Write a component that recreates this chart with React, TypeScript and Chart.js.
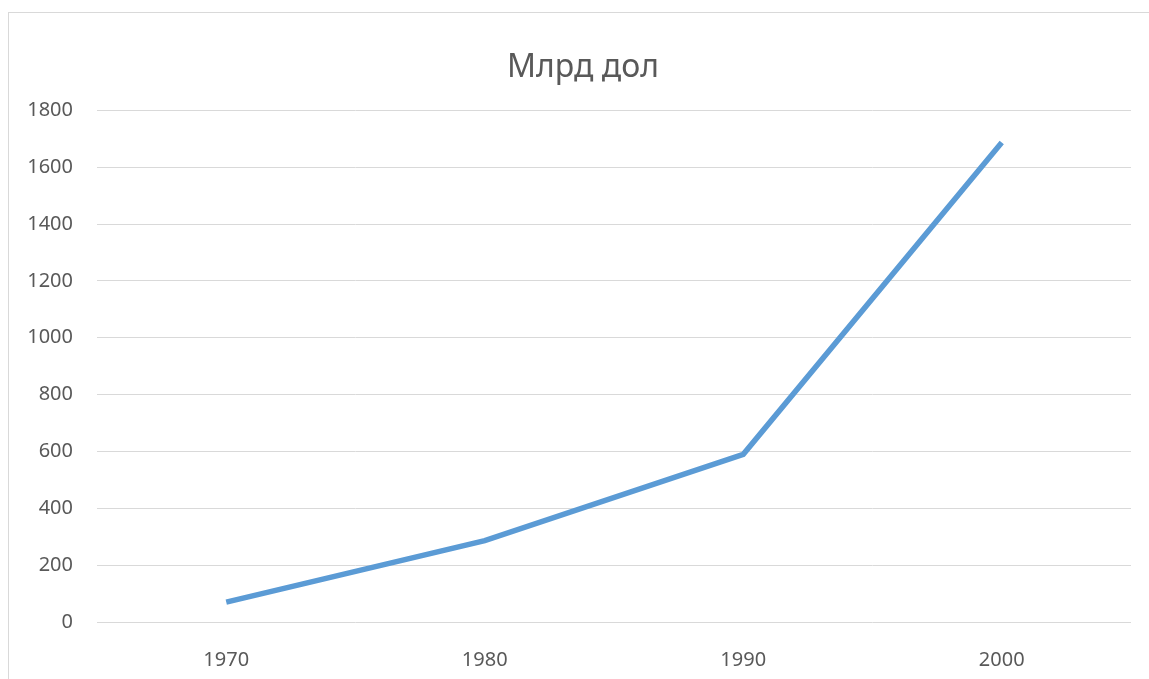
import React, { useEffect, useRef } from "react";
import { Chart, registerables } from "chart.js";

Chart.register(...registerables);

const categories: string[] = ["1970", "1980", "1990", "2000"];
const values: number[] = [70, 286, 590, 1687];
const seriesName = "Млрд дол";
const titleText = "Млрд дол";
const yMin = 0;
const yMax = 1800;
const yStep = 200;

const centerTitlePlugin = {
  id: "centerTitleFull",
  afterLayout(chart: any) {
    const tb = chart.titleBlock;
    if (tb) {
      tb.left = 0;
      tb.right = chart.width;
    }
  },
};

export default function App() {
  const ref = useRef<HTMLCanvasElement | null>(null);

  useEffect(() => {
    if (!ref.current) return;
    const chart = new Chart(ref.current, {
      type: "line",
      data: {
        labels: categories,
        datasets: [
          {
            label: seriesName,
            data: values,
            borderColor: "#5B9BD5",
            backgroundColor: "#5B9BD5",
            borderWidth: 5.5,
            pointRadius: 0,
            tension: 0,
            borderCapStyle: "butt",
            borderJoinStyle: "miter",
          },
        ],
      },
      plugins: [centerTitlePlugin],
      options: {
        animation: false,
        responsive: false,
        maintainAspectRatio: false,
        layout: { padding: { left: 0, right: 26, top: 0, bottom: 0 } },
        plugins: {
          legend: { display: false },
          tooltip: { enabled: false },
          title: {
            display: true,
            text: titleText,
            color: "#595959",
            font: { family: "'Noto Sans'", size: 32, weight: "normal" },
            padding: { top: 36, bottom: 23 },
          },
        },
        scales: {
          x: {
            offset: true,
            grid: { display: false, drawTicks: false },
            border: { display: false },
            ticks: {
              color: "#595959",
              font: { family: "'Noto Sans'", size: 20 },
              padding: 26,
              maxRotation: 0,
            },
            afterFit: (scale: any) => {
              scale.height = 79;
            },
          },
          y: {
            position: "left",
            min: yMin,
            max: yMax,
            grid: { color: "#d9d9d9", lineWidth: 1, drawTicks: false },
            border: { display: false },
            ticks: {
              stepSize: yStep,
              color: "#595959",
              font: { family: "'Noto Sans'", size: 20 },
              padding: 24,
              callback: (v: any) => String(v),
            },
            afterFit: (scale: any) => {
              scale.width = 88;
            },
          },
        },
      },
    });
    return () => chart.destroy();
  }, []);

  return (
    <div
      style={{
        position: "fixed",
        left: 8,
        top: 12,
        width: 1141,
        height: 667,
        overflow: "hidden",
        background: "#fff",
        borderLeft: "1px solid #d9d9d9",
        borderTop: "1px solid #d9d9d9",
        boxSizing: "border-box",
      }}
    >
      <canvas ref={ref} width={1148} height={688} style={{ display: "block" }} />
    </div>
  );
}
